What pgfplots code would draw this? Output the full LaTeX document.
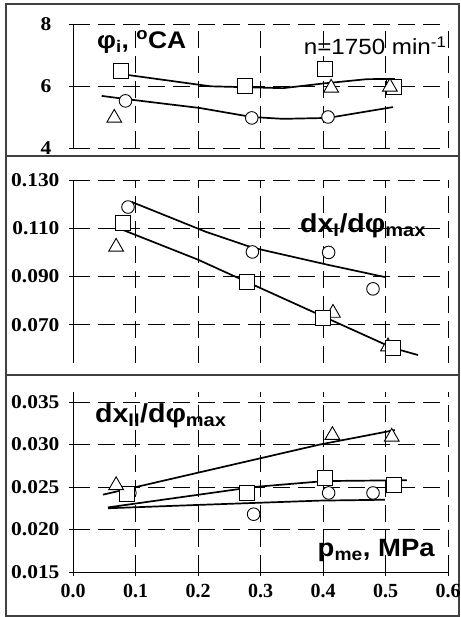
\documentclass[border=0pt]{standalone}
\usepackage{fontspec}
\setmainfont{Liberation Sans}
\newfontfamily\labfont[FakeStretch=1.1]{Liberation Sans}
\newfontfamily\tickfont[FakeStretch=1.1]{Liberation Serif}
\newfontfamily\xtickfont{Liberation Serif}
\usepackage{pgfplots}
\pgfplotsset{compat=1.18}

\tikzset{lab/.style={inner sep=0pt, font=\labfont\bfseries\fontsize{#1}{#1}\selectfont}}

\pgfplotsset{
  panel/.style={
    scale only axis, width=375pt,
    xmin=0, xmax=0.6,
    xtick={0,0.1,0.2,0.3,0.4,0.5,0.6},
    scaled ticks=false,
    grid=major,
    major grid style={black, line width=0.8pt, dash pattern=on 17pt off 8pt},
    axis y line*=left, axis x line*=bottom,
    axis line style={black, line width=0.9pt, -},
    tick align=center, major tick length=8pt,
    tick style={black, line width=0.9pt},
    yticklabel style={font=\tickfont\bfseries\fontsize{19.5}{20}\selectfont, xshift=-6pt},
    xticklabel style={font=\xtickfont\bfseries\fontsize{20}{20}\selectfont},
    /pgf/number format/assume math mode=true,
  },
  nox/.style={x axis line style={draw=none}, xticklabels={}, xtick style={draw=none}},
  fit/.style={black, line width=1.7pt, no marks},
  sq/.style={only marks, mark=square*, mark size=7.5pt,
    mark options={fill=white, draw=black, line width=0.9pt}},
  ci/.style={only marks, mark=*, mark size=6.3pt,
    mark options={fill=white, draw=black, line width=0.9pt}},
  tr/.style={only marks, mark=triangle*, mark size=8.5pt,
    mark options={fill=white, draw=black, line width=0.9pt}},
  y3/.style={yticklabel style={/pgf/number format/fixed, /pgf/number format/zerofill, /pgf/number format/precision=3}},
}

\begin{document}
\begin{tikzpicture}
\useasboundingbox (0,0) rectangle (460pt,617pt);
\draw[black!75, line width=1.8pt] (6pt,1pt) rectangle (459pt,613pt);
\draw[black!75, line width=1.8pt] (6pt,461pt) -- (459pt,461pt);
\draw[black!75, line width=1.8pt] (6pt,242pt) -- (459pt,242pt);

% panel 1: phi_i
\begin{axis}[panel, nox, at={(73pt,469pt)}, anchor=south west,
  height=124pt, ymin=4, ymax=8, ytick={4,6,8},
  yticklabel style={xshift=-8pt}]
\addplot[fit] coordinates {(0.086,6.36) (0.22,5.99) (0.336,5.93) (0.40,6.08) (0.47,6.22) (0.515,6.23)};
\addplot[fit] coordinates {(0.046,5.68) (0.084,5.58) (0.203,5.29) (0.286,5.00) (0.336,4.94) (0.408,4.97) (0.512,5.32)};
\addplot[ci] coordinates {(0.084,5.52) (0.286,4.97) (0.408,5.00)};
\addplot[sq] coordinates {(0.077,6.48) (0.275,6.00) (0.403,6.55) (0.514,5.97)};
\addplot[tr] coordinates {(0.066,4.97) (0.413,5.94) (0.507,5.97)};
\node[lab=24, anchor=west] at (axis cs:0.0384,7.42) {φ\textsubscript{i}, \textsuperscript{o}CA};
\node[inner sep=0pt, anchor=east, font=\labfont\fontsize{22}{22}\selectfont] at (axis cs:0.598,7.29) {n=1750 min\textsuperscript{-1}};
\end{axis}

% panel 2: dx_I/dphi_max
\begin{axis}[panel, nox, y3, at={(73pt,254pt)}, anchor=south west,
  height=183pt, ymin=0.0542, ymax=0.130, ytick={0.070,0.090,0.110,0.130}]
\addplot[fit] coordinates {(0.094,0.1209) (0.213,0.1085) (0.287,0.1020) (0.409,0.0948) (0.499,0.0898)};
\addplot[fit] coordinates {(0.080,0.1093) (0.200,0.0970) (0.278,0.0878) (0.400,0.0735) (0.512,0.0604) (0.552,0.0575)};
\addplot[ci] coordinates {(0.088,0.1188) (0.287,0.1002) (0.409,0.1000) (0.480,0.0849)};
\addplot[tr] coordinates {(0.069,0.1023) (0.416,0.0749) (0.504,0.0610)};
\addplot[sq] coordinates {(0.080,0.1122) (0.278,0.0878) (0.400,0.0728) (0.512,0.0604)};
\node[lab=26, anchor=west] at (axis cs:0.363,0.1111) {dx\textsubscript{I}/dφ\textsubscript{max}};
\end{axis}

% panel 3: dx_II/dphi_max
\begin{axis}[panel, y3, at={(73pt,45pt)}, anchor=south west,
  height=180pt, ymin=0.015, ymax=0.03618, ytick={0.015,0.020,0.025,0.030,0.035},
  xticklabel style={yshift=-5pt, /pgf/number format/fixed, /pgf/number format/zerofill, /pgf/number format/precision=1}]
\addplot[fit] coordinates {(0.048,0.0241) (0.395,0.0300) (0.515,0.0317)};
\addplot[fit] coordinates {(0.056,0.0226) (0.289,0.0250) (0.403,0.0257) (0.534,0.0258)};
\addplot[fit] coordinates {(0.056,0.0225) (0.203,0.0229) (0.395,0.0234) (0.499,0.0235)};
\addplot[ci] coordinates {(0.091,0.0243) (0.289,0.0218) (0.409,0.0243) (0.480,0.0243)};
\addplot[sq] coordinates {(0.086,0.0242) (0.278,0.0243) (0.403,0.0261) (0.514,0.0252)};
\addplot[tr] coordinates {(0.069,0.0252) (0.415,0.0311) (0.510,0.0309)};
\node[lab=26, anchor=west] at (axis cs:0.035,0.0334) {dx\textsubscript{II}/dφ\textsubscript{max}};
\node[lab=25, anchor=base east] at (axis cs:0.579,0.0168) {p\textsubscript{me}, MPa};
\end{axis}
\end{tikzpicture}
\end{document}
